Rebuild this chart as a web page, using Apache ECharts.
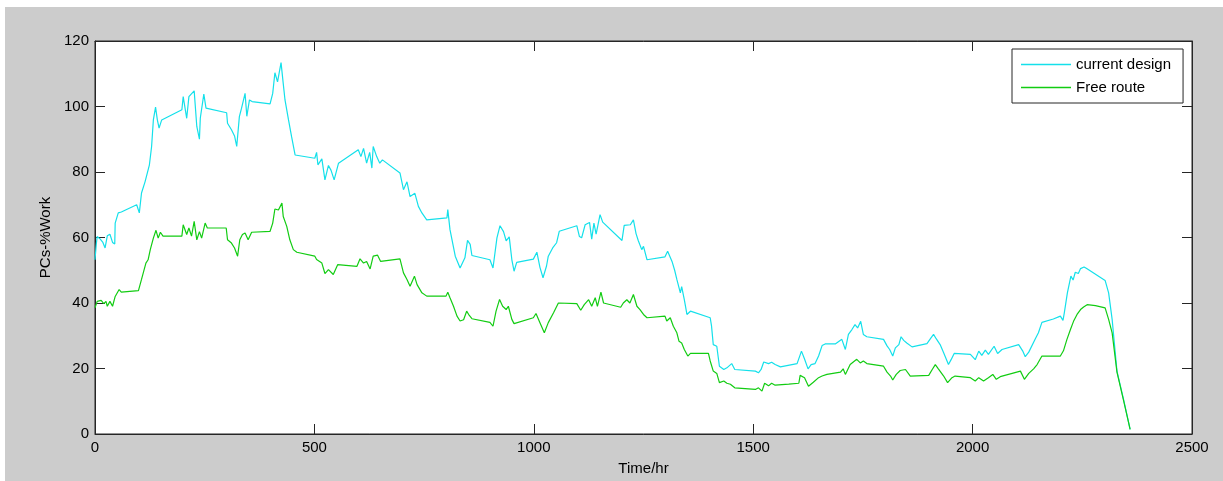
<!DOCTYPE html>
<html>
<head>
<meta charset="utf-8">
<title>PCs-%Work</title>
<script src="https://cdn.jsdelivr.net/npm/echarts@6/dist/echarts.min.js"></script>
<style>
  body { margin: 0; background: #fff; }
  #main { position: absolute; left: 5px; top: 7px; width: 1218px; height: 474px; background: #cccccc; }
</style>
</head>
<body>
<div id="main"></div>
<script>
// current design (time in hr, PCs-%Work)
var timeCurrent = [0, 3, 5, 12, 18, 23, 28, 34, 40, 45, 46, 53, 60, 95, 101, 106, 114, 124, 129, 133, 138, 142, 146, 152,
  198, 201, 209, 214, 226, 232, 238, 240, 248, 253, 300, 302, 311, 318, 323, 329, 334, 342, 346, 352, 358, 399, 405, 410,
  416, 420, 424, 429, 433, 441, 448, 456, 501, 505, 508, 517, 524, 532, 538, 545, 555, 600, 606, 612, 619, 626, 631, 634,
  642, 649, 655, 695, 703, 711, 718, 729, 737, 745, 756, 802, 804, 809, 821, 832, 843, 849, 855, 859, 900, 907, 916, 923,
  931, 937, 944, 950, 955, 961, 999, 1007, 1014, 1021, 1029, 1033, 1043, 1052, 1058, 1098, 1104, 1109, 1117, 1127, 1132,
  1137, 1142, 1151, 1157, 1201, 1206, 1220, 1227, 1233, 1238, 1246, 1250, 1258, 1260, 1299, 1305, 1315, 1321, 1326, 1334,
  1337, 1343, 1349, 1357, 1402, 1405, 1409, 1417, 1423, 1433, 1440, 1451, 1458, 1505, 1512, 1518, 1524, 1535, 1542, 1550,
  1562, 1600, 1610, 1617, 1625, 1632, 1641, 1649, 1657, 1664, 1687, 1702, 1705, 1710, 1717, 1725, 1732, 1738, 1745, 1751,
  1759, 1797, 1805, 1811, 1818, 1824, 1832, 1837, 1843, 1850, 1862, 1896, 1904, 1911, 1917, 1926, 1934, 1945, 1951, 1958,
  1995, 2006, 2014, 2021, 2029, 2036, 2049, 2057, 2067, 2105, 2114, 2120, 2128, 2143, 2150, 2158, 2184, 2200, 2206, 2209,
  2216, 2224, 2229, 2234, 2241, 2246, 2254, 2260, 2302, 2310, 2318, 2329, 2344, 2359]
var pcsCurrent = [53.2, 58, 60.3, 59.5, 58.5, 56.8, 60.5, 61, 58.5, 58, 64.4, 67.5, 67.8, 70, 67.5, 73.6, 77, 82.2, 87.8, 95.9, 99.8, 96, 93.4, 95.9,
  99, 103, 96.4, 103, 104.8, 93.9, 90, 96.5, 103.8, 99.5, 98.1, 94.9, 92.9, 91, 87.8, 96.9, 99.5, 104, 97, 102, 101.5, 100.8, 104, 110.3,
  107.5, 108, 113.4, 107, 102, 95.9, 90.8, 85.2, 84.2, 86, 82.2, 84, 77.6, 82, 80.5, 77.6, 82.7, 86.8, 84.7, 87.2, 82.7, 86, 81.2, 87.8,
  84.7, 82.7, 83.7, 79.7, 74.6, 77, 72.5, 73.5, 69.5, 67.5, 65.4, 66, 68.5, 62.4, 54.3, 50.7, 53.8, 59.1, 57.9, 54.5, 53.2, 50.7, 59.9, 63.6,
  61.8, 59, 60.2, 53.2, 49.7, 52.4, 53.4, 55.5, 50.9, 47.7, 51.3, 54.3, 56.8, 58.4, 61.9, 63.6, 60.3, 59.9, 63.9, 64.6, 59.5,
  64.4, 61, 67, 64.7, 59.1, 63.7, 63.9, 65.4, 61.2, 59.1, 56.3, 57.3, 53.2, 52.9, 54.1, 55.8, 52.7, 50, 47.2, 43.1,
  45, 41, 36.5, 37.5, 35.5, 33, 27.3, 26.8, 20.7, 19.7, 20.2, 21.5, 19.7, 19.2, 18.7, 19.7, 22, 21.5, 21.9, 21.2,
  20.5, 21.5, 25.3, 22.9, 19.9, 21.2, 21.5, 23.8, 27, 27.5, 27.5, 28.9, 29.4, 25.8, 30.4, 31.9, 33.4, 32.4, 34.4, 30.4,
  29.7, 28.9, 26.9, 25.8, 23.8, 26.3, 27.3, 29.7, 28.6, 27.8, 26.6, 27.6, 29.1, 30.4, 29.1, 27.3, 24.8, 21.2, 22.7, 24.6,
  24.3, 22.7, 25.3, 24, 25.6, 24.3, 26.8, 24.6, 25.8, 27.3, 25.4, 23.6, 25, 29.1, 30.9, 34.1, 35.1, 36, 34.7, 37,
  43.1, 48.2, 47, 49.4, 49, 50.5, 51, 50.5, 46.9, 43.1, 35, 19.2, 10.6, 1.4]

// free route
var timeFree = [0, 5, 14, 20, 25, 28, 34, 40, 46, 55, 60, 99, 103, 106, 110, 116, 121, 126, 133, 139, 144, 149, 155,
  198, 201, 209, 214, 220, 226, 232, 238, 243, 251, 256, 299, 302, 311, 318, 325, 330, 336, 342, 349, 357, 399, 405, 410,
  418, 426, 429, 437, 444, 452, 460, 501, 505, 517, 524, 532, 543, 553, 597, 604, 612, 619, 627, 634, 644, 651, 695, 703,
  711, 718, 728, 734, 745, 756, 800, 804, 809, 817, 825, 832, 840, 847, 853, 859, 900, 907, 914, 922, 929, 937, 942, 950,
  955, 999, 1005, 1014, 1024, 1033, 1045, 1056, 1098, 1107, 1115, 1125, 1132, 1140, 1145, 1153, 1159, 1198, 1204, 1212,
  1219, 1227, 1235, 1242, 1250, 1258, 1299, 1303, 1311, 1318, 1326, 1331, 1337, 1343, 1351, 1357, 1398, 1402, 1409, 1417,
  1423, 1433, 1440, 1448, 1458, 1505, 1512, 1520, 1526, 1535, 1542, 1550, 1581, 1604, 1607, 1617, 1626, 1637, 1649, 1657,
  1668, 1699, 1705, 1710, 1721, 1736, 1744, 1751, 1759, 1797, 1805, 1813, 1818, 1826, 1835, 1847, 1858, 1900, 1908, 1915,
  1922, 1934, 1943, 1953, 1960, 1995, 2006, 2014, 2025, 2036, 2046, 2054, 2063, 2109, 2118, 2128, 2139, 2147, 2158, 2200,
  2207, 2215, 2223, 2230, 2238, 2246, 2253, 2261, 2280, 2302, 2310, 2318, 2329, 2344, 2359]
var pcsFree = [38.5, 40.5, 40.8, 39.8, 40.5, 39, 40.5, 39, 42, 44.1, 43.3, 43.8, 44, 47.2, 47.7, 52.2, 53.2, 56.3, 59.8, 62.2, 59.8, 61.6, 60.4,
  60.4, 63.9, 60.9, 62.9, 60.4, 64.9, 59.3, 61.8, 59.8, 64.4, 62.9, 62.9, 59.3, 58.3, 56.8, 54.3, 59.3, 60.9, 61.4, 59.3, 61.6, 61.9, 64.4, 68.7,
  68.4, 70.5, 66.4, 63.4, 59.3, 56.3, 55.5, 54.3, 53.3, 52.2, 49, 50.2, 48.7, 51.7, 51.2, 53.5, 52.2, 52.7, 50.4, 54.3, 54.6, 52.7, 53.5, 49.2,
  47.2, 45.1, 48.2, 45.6, 43.1, 42.1, 42.1, 43.3, 41.6, 39, 36, 34.5, 34.9, 37.5, 36.2, 35.2, 34.1, 32.9, 37.5, 41.1, 39, 38, 39, 35,
  33.7, 35.5, 36.8, 34, 30.9, 34, 37, 40, 39.8, 37.8, 39.5, 41, 39, 41.6, 39, 43.3, 40, 38.7, 40, 41,
  40, 42.6, 39, 38, 36.5, 35.5, 36, 34.5, 35.5, 32.9, 30.9, 28.3, 27.8, 25.8, 23.8, 24.6, 24.6, 22.3, 19.2, 18.5,
  15.7, 16.2, 15.5, 15.2, 14.1, 13.6, 14.1, 13.1, 15.5, 14.7, 15.5, 14.9, 15.2, 15.5, 17.9, 17.2, 14.6, 15.8, 17.2, 17.7,
  18.2, 18.9, 19.9, 18.2, 21.2, 22.8, 21.7, 22.3, 21.5, 20.7, 18.9, 17.7, 16.5, 18.2, 19.4, 19.7, 17.7, 17.9, 19.7, 21.2,
  19.9, 17.7, 15.7, 17.2, 17.7, 17.2, 16.2, 17.2, 16.2, 17.2, 18.2, 16.7, 17.5, 19.2, 16.7, 18.5, 19.9, 21.2, 23.8, 23.8,
  25.4, 28.9, 31.9, 34.4, 36.5, 38, 38.8, 39.5, 39.2, 38.5, 35, 30.9, 18.9, 10.3, 1.4]

var seriesNames = ['current design', 'Free route']

function pairs(xs, ys) {
  return xs.map(function (x, i) { return [x, ys[i]] })
}

var chart = echarts.init(document.getElementById('main'))
var axisColor = '#262626'
var font = 'Liberation Sans, Arial, sans-serif'
var plain = function (v) { return String(v) }

var xBase = {
  type: 'value',
  min: 0,
  max: 2500,
  interval: 500,
  axisLine: { show: true, onZero: false, lineStyle: { color: axisColor, width: 1 } },
  axisTick: { inside: true, length: 10, lineStyle: { color: axisColor } },
  splitLine: { show: false }
}
var yBase = {
  type: 'value',
  min: 0,
  max: 120,
  interval: 20,
  axisLine: { show: true, onZero: false, lineStyle: { color: axisColor, width: 1 } },
  axisTick: { inside: true, length: 10, lineStyle: { color: axisColor } },
  splitLine: { show: false }
}

chart.setOption({
  animation: false,
  grid: {
    left: 90,
    top: 34,
    width: 1097,
    height: 394,
    show: true,
    backgroundColor: '#ffffff',
    borderColor: axisColor,
    borderWidth: 1
  },
  legend: {
    data: seriesNames,
    orient: 'vertical',
    left: 1007,
    top: 42,
    padding: [8, 12, 8, 9],
    icon: 'rect',
    itemWidth: 50,
    itemHeight: 1.5,
    itemGap: 8,
    backgroundColor: '#ffffff',
    borderColor: axisColor,
    borderWidth: 1,
    borderRadius: 0,
    textStyle: { color: '#000', fontSize: 15, fontFamily: font }
  },
  xAxis: [
    Object.assign({}, xBase, {
      position: 'bottom',
      axisLabel: { color: '#000', fontSize: 15, fontFamily: font, margin: 6, formatter: plain },
      name: 'Time/hr',
      nameLocation: 'middle',
      nameGap: 27,
      nameTextStyle: { color: '#000', fontSize: 15, fontFamily: font }
    }),
    Object.assign({}, xBase, { position: 'top', axisLabel: { show: false } })
  ],
  yAxis: [
    Object.assign({}, yBase, {
      position: 'left',
      axisLabel: { color: '#000', fontSize: 15, fontFamily: font, margin: 6, formatter: plain },
      name: 'PCs-%Work',
      nameLocation: 'middle',
      nameGap: 41,
      nameTextStyle: { color: '#000', fontSize: 15, fontFamily: font }
    }),
    Object.assign({}, yBase, { position: 'right', axisLabel: { show: false } })
  ],
  series: [
    {
      name: seriesNames[0],
      type: 'line',
      symbol: 'none',
      xAxisIndex: 0,
      yAxisIndex: 0,
      color: '#14e0ea',
      lineStyle: { color: '#14e0ea', width: 1.2 },
      data: pairs(timeCurrent, pcsCurrent)
    },
    {
      name: seriesNames[1],
      type: 'line',
      symbol: 'none',
      xAxisIndex: 0,
      yAxisIndex: 0,
      color: '#12cc12',
      lineStyle: { color: '#12cc12', width: 1.2 },
      data: pairs(timeFree, pcsFree)
    }
  ]
})
</script>
</body>
</html>
